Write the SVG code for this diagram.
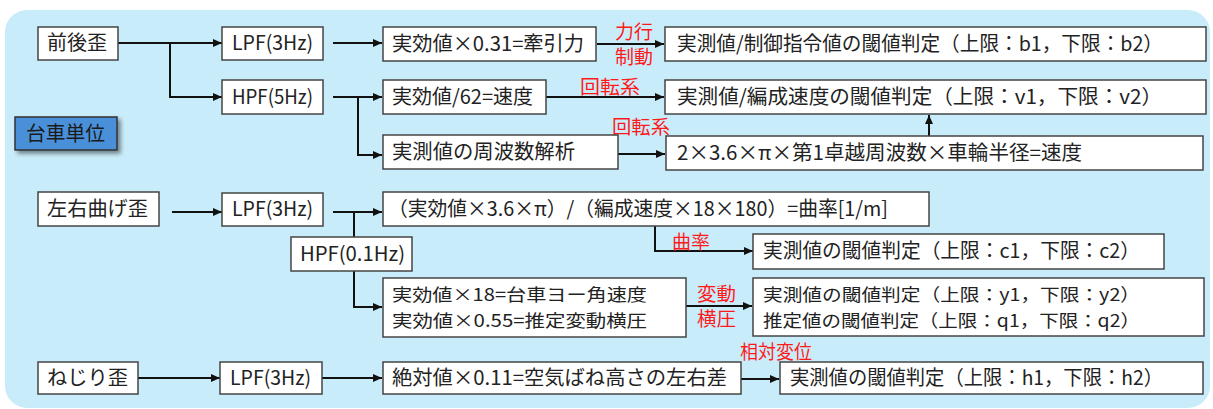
<svg xmlns="http://www.w3.org/2000/svg" width="1213" height="409" viewBox="0 0 1213 409">
<defs>
<style>
.bg{fill:#c9ecfa}
.box{fill:#ffffff;stroke:#444;stroke-width:1.5}
.t{font-family:"Noto Sans CJK JP","Noto Sans",sans-serif;font-size:20px;fill:#222}
.t2{font-family:"Noto Sans CJK JP","Noto Sans",sans-serif;font-size:17.5px;fill:#222}
.r{font-family:"Noto Sans CJK JP","Noto Sans",sans-serif;font-size:19px;fill:#ff1a1a}
.c{fill:none;stroke:#111;stroke-width:2}
.a{marker-end:url(#ah)}
.unit{fill:#4a90d9;stroke:#333;stroke-width:1.5}
</style>
<marker id="ah" markerUnits="userSpaceOnUse" markerWidth="9" markerHeight="8" refX="9" refY="4" orient="auto">
<path d="M0,0 L9,4 L0,8 z" fill="#111"/>
</marker>
<filter id="sh" x="-20%" y="-20%" width="140%" height="160%">
<feGaussianBlur in="SourceAlpha" stdDeviation="2"/>
<feOffset dx="3" dy="3"/>
<feComponentTransfer><feFuncA type="linear" slope="0.45"/></feComponentTransfer>
<feMerge><feMergeNode/><feMergeNode in="SourceGraphic"/></feMerge>
</filter>
</defs>
<rect class="bg" x="5" y="10" width="1205" height="398" rx="22"/>

<g id="connectors">
<path class="c a" d="M118 43 H222"/>
<path class="c a" d="M170 43 V97 H222"/>
<path class="c a" d="M333 43 H382"/>
<path class="c a" d="M333 97 H382"/>
<path class="c a" d="M358 97 V155 H382"/>
<path class="c a" d="M597 44 H664"/>
<path class="c a" d="M546 97 H664"/>
<path class="c a" d="M618 154 H665"/>
<path class="c a" d="M929 136 V115"/>
<path class="c a" d="M172 212 H222"/>
<path class="c a" d="M333 212 H382"/>
<path class="c a" d="M354 212 V307 H382"/>
<path class="c a" d="M655 226 V251 H753"/>
<path class="c a" d="M686 306 H752"/>
<path class="c a" d="M138 378 H220"/>
<path class="c a" d="M322 378 H382"/>
<path class="c a" d="M741 379 H779"/>
</g>

<g id="labels">
<text class="r" x="615" y="39" textLength="38" lengthAdjust="spacingAndGlyphs">力行</text>
<text class="r" x="615" y="64" textLength="38" lengthAdjust="spacingAndGlyphs">制動</text>
<text class="r" x="580" y="94" textLength="60" lengthAdjust="spacingAndGlyphs">回転系</text>
<text class="r" x="612" y="134" textLength="58" lengthAdjust="spacingAndGlyphs">回転系</text>
<text class="r" x="672" y="249" textLength="38" lengthAdjust="spacingAndGlyphs">曲率</text>
<text class="r" x="697" y="301" textLength="39" lengthAdjust="spacingAndGlyphs">変動</text>
<text class="r" x="697" y="326" textLength="39" lengthAdjust="spacingAndGlyphs">横圧</text>
<text class="r" x="740" y="359" textLength="72" lengthAdjust="spacingAndGlyphs">相対変位</text>
</g>

<g id="n_zengo"><rect class="box" x="38" y="27" width="80" height="33"/><text class="t" x="47" y="50" textLength="60" lengthAdjust="spacingAndGlyphs">前後歪</text></g>
<g id="n_lpf1"><rect class="box" x="222" y="27" width="101" height="33"/><text class="t" x="232" y="50" textLength="81" lengthAdjust="spacingAndGlyphs">LPF(3Hz)</text></g>
<g id="n_hpf1"><rect class="box" x="222" y="80" width="101" height="34"/><text class="t" x="232" y="104" textLength="81" lengthAdjust="spacingAndGlyphs">HPF(5Hz)</text></g>
<g id="n_unit"><rect class="unit" x="15" y="117" width="102" height="33" filter="url(#sh)"/><text class="t" x="26" y="141" textLength="79" lengthAdjust="spacingAndGlyphs" style="fill:#1a1a1a">台車単位</text></g>
<g id="n_traction"><rect class="box" x="383" y="27" width="213" height="34"/><text class="t" x="392" y="51" textLength="192" lengthAdjust="spacingAndGlyphs">実効値×0.31=牽引力</text></g>
<g id="n_judge_b"><rect class="box" x="665" y="27" width="541" height="34"/><text class="t" x="677" y="51" textLength="486" lengthAdjust="spacingAndGlyphs">実測値/制御指令値の閾値判定（上限：b1，下限：b2）</text></g>
<g id="n_speed62"><rect class="box" x="383" y="80" width="163" height="34"/><text class="t" x="392" y="104" textLength="141" lengthAdjust="spacingAndGlyphs">実効値/62=速度</text></g>
<g id="n_judge_v"><rect class="box" x="665" y="80" width="541" height="34"/><text class="t" x="677" y="104" textLength="485" lengthAdjust="spacingAndGlyphs">実測値/編成速度の閾値判定（上限：v1，下限：v2）</text></g>
<g id="n_freq"><rect class="box" x="383" y="135" width="235" height="34"/><text class="t" x="392" y="159" textLength="183" lengthAdjust="spacingAndGlyphs">実測値の周波数解析</text></g>
<g id="n_speedcalc"><rect class="box" x="666" y="136" width="537" height="34"/><text class="t" x="677" y="160" textLength="405" lengthAdjust="spacingAndGlyphs">2×3.6×π×第1卓越周波数×車輪半径=速度</text></g>

<g id="n_sayu"><rect class="box" x="38" y="192" width="121" height="34"/><text class="t" x="47" y="216" textLength="101" lengthAdjust="spacingAndGlyphs">左右曲げ歪</text></g>
<g id="n_lpf2"><rect class="box" x="222" y="193" width="101" height="33"/><text class="t" x="232" y="216" textLength="81" lengthAdjust="spacingAndGlyphs">LPF(3Hz)</text></g>
<g id="n_curv"><rect class="box" x="383" y="192" width="546" height="34"/><text class="t" x="388" y="216" textLength="500" lengthAdjust="spacingAndGlyphs">（実効値×3.6×π）/（編成速度×18×180）=曲率[1/m]</text></g>
<g id="n_hpf01"><rect class="box" x="291" y="237" width="121" height="34"/><text class="t" x="300" y="261" textLength="105" lengthAdjust="spacingAndGlyphs">HPF(0.1Hz)</text></g>
<g id="n_judge_c"><rect class="box" x="753" y="234" width="411" height="35"/><text class="t" x="763" y="258" textLength="377" lengthAdjust="spacingAndGlyphs">実測値の閾値判定（上限：c1，下限：c2）</text></g>
<g id="n_yaw"><rect class="box" x="383" y="278" width="303" height="59"/><text class="t2" x="392" y="301" textLength="255" lengthAdjust="spacingAndGlyphs">実効値×18=台車ヨー角速度</text><text class="t2" x="392" y="327" textLength="255" lengthAdjust="spacingAndGlyphs">実効値×0.55=推定変動横圧</text></g>
<g id="n_judge_yq"><rect class="box" x="753" y="278" width="451" height="58"/><text class="t2" x="763" y="301" textLength="377" lengthAdjust="spacingAndGlyphs">実測値の閾値判定（上限：y1，下限：y2）</text><text class="t2" x="763" y="327" textLength="377" lengthAdjust="spacingAndGlyphs">推定値の閾値判定（上限：q1，下限：q2）</text></g>

<g id="n_nejiri"><rect class="box" x="38" y="362" width="100" height="32"/><text class="t" x="47" y="385" textLength="81" lengthAdjust="spacingAndGlyphs">ねじり歪</text></g>
<g id="n_lpf3"><rect class="box" x="220" y="362" width="102" height="32"/><text class="t" x="230" y="385" textLength="81" lengthAdjust="spacingAndGlyphs">LPF(3Hz)</text></g>
<g id="n_air"><rect class="box" x="383" y="362" width="358" height="32"/><text class="t" x="392" y="385" textLength="335" lengthAdjust="spacingAndGlyphs">絶対値×0.11=空気ばね高さの左右差</text></g>
<g id="n_judge_h"><rect class="box" x="780" y="362" width="423" height="32"/><text class="t" x="790" y="385" textLength="373" lengthAdjust="spacingAndGlyphs">実測値の閾値判定（上限：h1，下限：h2）</text></g>
</svg>
